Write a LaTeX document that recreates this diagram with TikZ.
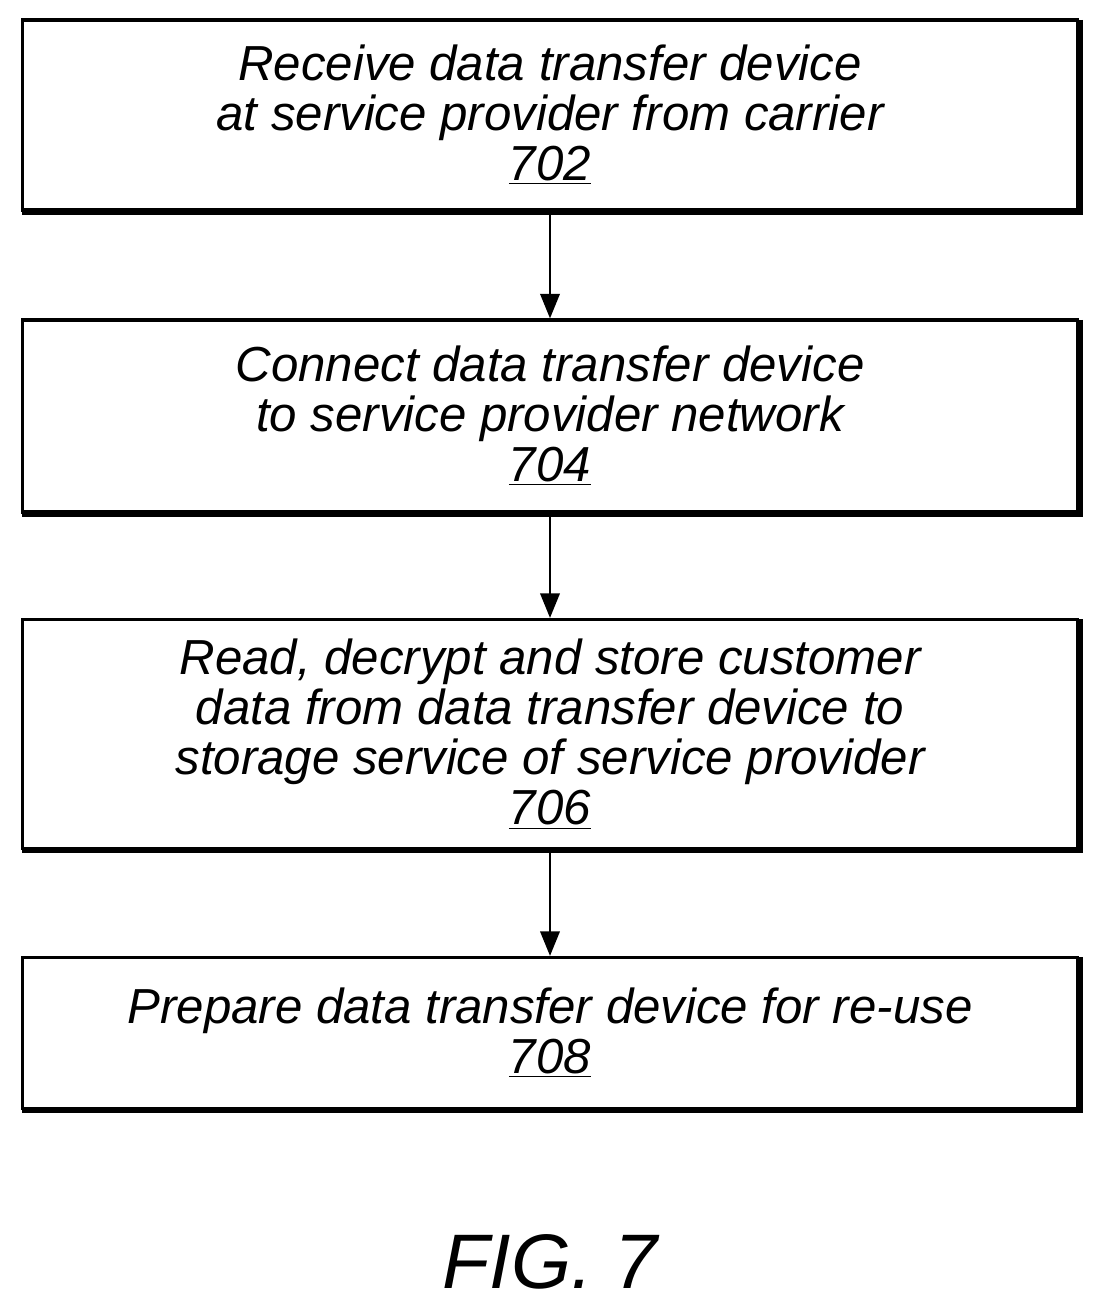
\documentclass[tikz,border=0pt]{standalone}
\usepackage{fontspec}
\setmainfont{Liberation Sans}
\usetikzlibrary{arrows.meta}
\tikzset{
  stepbox/.style={draw, line width=1.8pt, minimum width=21.12cm, align=center,
    font=\itshape\fontsize{28}{28.5}\selectfont, inner sep=0pt},
  flow/.style={line width=1.5pt, -{Triangle[length=14pt,width=11pt]}}
}
\begin{document}
\begin{tikzpicture}[x=0.02cm,y=-0.02cm]
		\useasboundingbox (0,0) rectangle (1100,1308);

		% Steps
		\node[stepbox, minimum height=3.8cm] (s702) at (550,115) {Receive data transfer device\\at service provider from carrier\\\underline{702}};
		\node[stepbox, minimum height=3.84cm] (s704) at (550,416) {Connect data transfer device\\to service provider network\\\underline{704}};
		\node[stepbox, minimum height=4.58cm] (s706) at (550,734) {Read, decrypt and store customer\\data from data transfer device to\\storage service of service provider\\\underline{706}};
		\node[stepbox, minimum height=3.02cm] (s708) at (550,1033) {Prepare data transfer device for re-use\\\underline{708}};

		% Shadow edges
		\foreach \s in {s702,s704,s706,s708}
			\draw[line width=1.8pt] ([shift={(1.5,1.5)}]\s.north east) -- ([shift={(1.5,1.5)}]\s.south east) -- ([shift={(1.5,1.5)}]\s.south west);

		% Arrows
		\draw[flow] (s702) -- (s704);
		\draw[flow] (s704) -- (s706);
		\draw[flow] (s706) -- (s708);

		\node[font=\itshape\fontsize{44}{50}\selectfont] (fig) at (550,1262) {FIG. 7};
\end{tikzpicture}
\end{document}
